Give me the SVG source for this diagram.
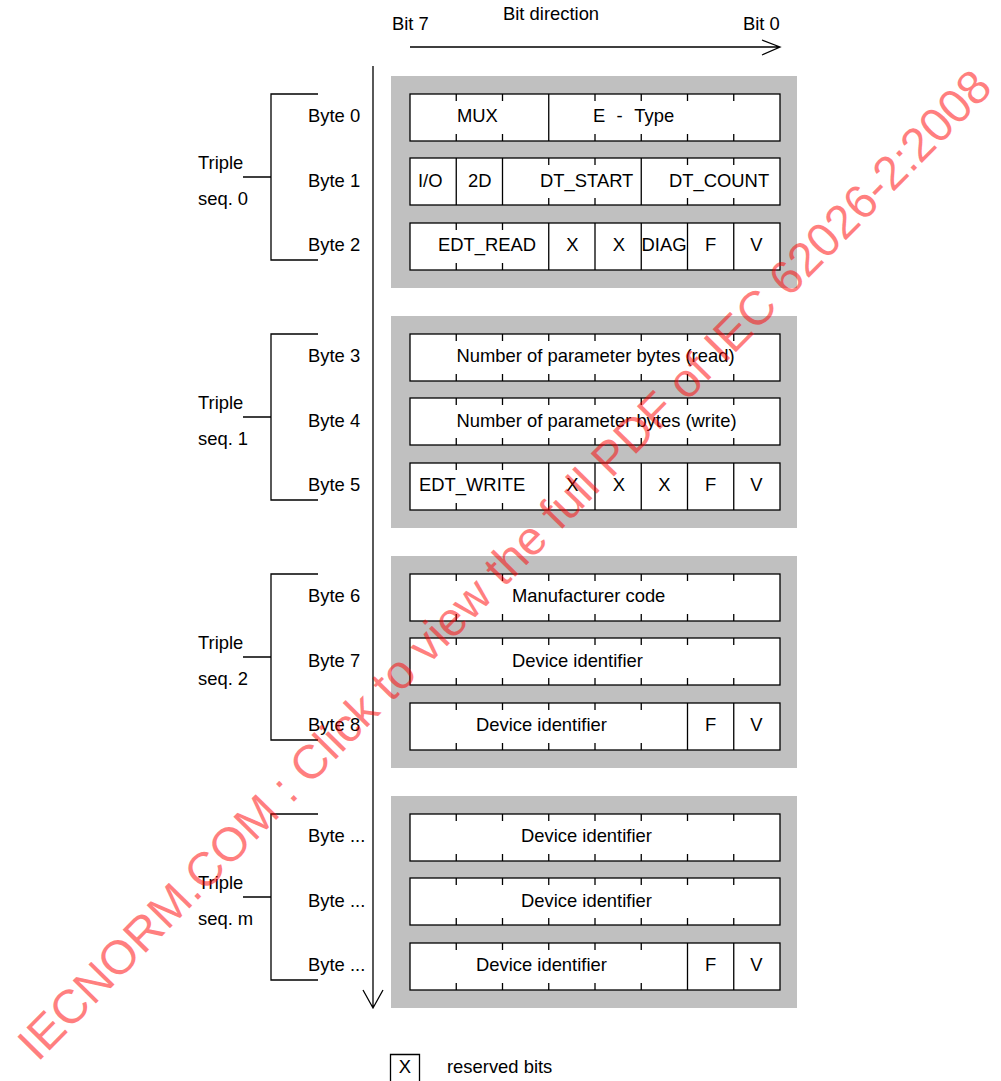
<svg xmlns="http://www.w3.org/2000/svg" width="1001" height="1081" viewBox="0 0 1001 1081">
<style>
text{font-family:"Liberation Sans",Arial,sans-serif;font-size:18.4px;fill:#000}
.m{text-anchor:middle}
.panel{fill:#c0c0c0}
.row{fill:#fff;stroke:#000;stroke-width:1.3}
.ln{stroke:#000;stroke-width:1.3;fill:none}
.wm{font-size:47.5px;fill:#ff0000;fill-opacity:0.5;text-anchor:middle}
</style>
<defs>
<g id="t7">
<path class="ln" d="M456.25,0v7M502.5,0v7M548.75,0v7M595,0v7M641.25,0v7M687.5,0v7M733.75,0v7M456.25,47v-7M502.5,47v-7M548.75,47v-7M595,47v-7M641.25,47v-7M687.5,47v-7M733.75,47v-7"/>
</g>
<g id="t5">
<path class="ln" d="M456.25,0v7M502.5,0v7M548.75,0v7M595,0v7M641.25,0v7M456.25,47v-7M502.5,47v-7M548.75,47v-7M595,47v-7M641.25,47v-7"/>
</g>
<g id="t2">
<path class="ln" d="M456.25,0v7M502.5,0v7M456.25,47v-7M502.5,47v-7"/>
</g>
</defs>
<rect width="1001" height="1081" fill="#fff"/>

<g id="header">
<text x="392" y="30">Bit 7</text>
<text x="503" y="20">Bit direction</text>
<text x="743" y="30">Bit 0</text>
</g>

<g id="connectors">
<path class="ln" d="M410,47H780M762,40L780,47L762,55"/>
<path class="ln" d="M373,66V1008M363,990L373,1008L383,990"/>
<path class="ln" d="M318,94H271V260H318M243,177H271"/>
<path class="ln" d="M318,334H271V500H318M243,417H271"/>
<path class="ln" d="M318,574H271V740H318M243,657H271"/>
<path class="ln" d="M318,814H271V980H318M243,897H271"/>
</g>

<g id="triple0">
<rect class="panel" x="391" y="76" width="406" height="212"/>
<text x="198" y="169">Triple</text><text x="198" y="205">seq. 0</text>
<g id="byte0">
<text x="308" y="122">Byte 0</text>
<rect class="row" x="410" y="94" width="370" height="47"/>
<path class="ln" d="M548.75,94v47M456.25,94v7M502.5,94v7M595,94v7M641.25,94v7M687.5,94v7M733.75,94v7M456.25,141v-7M502.5,141v-7M595,141v-7M641.25,141v-7M687.5,141v-7M733.75,141v-7"/>
<text x="457" y="122">MUX</text>
<text x="593" y="122">E <tspan dx="6">-</tspan> <tspan dx="7">Type</tspan></text>
</g>
<g id="byte1">
<text x="308" y="187">Byte 1</text>
<rect class="row" x="410" y="158" width="370" height="47"/>
<path class="ln" d="M456.25,158v47M502.5,158v47M641.25,158v47M548.75,158v7M595,158v7M687.5,158v7M733.75,158v7M548.75,205v-7M595,205v-7M687.5,205v-7M733.75,205v-7"/>
<text x="418" y="187">I/O</text>
<text x="468" y="187">2D</text>
<text x="540" y="187">DT_START</text>
<text x="669" y="187">DT_COUNT</text>
</g>
<g id="byte2">
<text x="308" y="251">Byte 2</text>
<rect class="row" x="410" y="223" width="370" height="47"/>
<path class="ln" d="M548.75,223v47M595,223v47M641.25,223v47M687.5,223v47M733.75,223v47"/>
<use href="#t2" y="223"/>
<text x="438" y="251">EDT_READ</text>
<text class="m" x="572.5" y="251">X</text>
<text class="m" x="619" y="251">X</text>
<text x="641.5" y="251">DIAG</text>
<text class="m" x="710.5" y="251">F</text>
<text class="m" x="756.5" y="251">V</text>
</g>
</g>

<g id="triple1">
<rect class="panel" x="391" y="316" width="406" height="212"/>
<text x="198" y="409">Triple</text><text x="198" y="445">seq. 1</text>
<g id="byte3">
<text x="308" y="362">Byte 3</text>
<rect class="row" x="410" y="334" width="370" height="47"/>
<use href="#t7" y="334"/>
<text x="456.5" y="362">Number of parameter bytes (read)</text>
</g>
<g id="byte4">
<text x="308" y="427">Byte 4</text>
<rect class="row" x="410" y="398" width="370" height="47"/>
<use href="#t7" y="398"/>
<text x="456.5" y="427">Number of parameter bytes (write)</text>
</g>
<g id="byte5">
<text x="308" y="491">Byte 5</text>
<rect class="row" x="410" y="463" width="370" height="47"/>
<path class="ln" d="M548.75,463v47M595,463v47M641.25,463v47M687.5,463v47M733.75,463v47"/>
<use href="#t2" y="463"/>
<text x="419" y="491">EDT_WRITE</text>
<text class="m" x="572.5" y="491">X</text>
<text class="m" x="619" y="491">X</text>
<text class="m" x="664.5" y="491">X</text>
<text class="m" x="710.5" y="491">F</text>
<text class="m" x="756.5" y="491">V</text>
</g>
</g>

<g id="triple2">
<rect class="panel" x="391" y="556" width="406" height="212"/>
<text x="198" y="649">Triple</text><text x="198" y="685">seq. 2</text>
<g id="byte6">
<text x="308" y="602">Byte 6</text>
<rect class="row" x="410" y="574" width="370" height="47"/>
<use href="#t7" y="574"/>
<text x="512" y="602">Manufacturer code</text>
</g>
<g id="byte7">
<text x="308" y="667">Byte 7</text>
<rect class="row" x="410" y="638" width="370" height="47"/>
<use href="#t7" y="638"/>
<text x="512" y="667">Device identifier</text>
</g>
<g id="byte8">
<text x="308" y="731">Byte 8</text>
<rect class="row" x="410" y="703" width="370" height="47"/>
<path class="ln" d="M687.5,703v47M733.75,703v47"/>
<use href="#t5" y="703"/>
<text x="476" y="731">Device identifier</text>
<text class="m" x="710.5" y="731">F</text>
<text class="m" x="756.5" y="731">V</text>
</g>
</g>

<g id="triplem">
<rect class="panel" x="391" y="796" width="406" height="212"/>
<text x="198" y="889">Triple</text><text x="198" y="925">seq. m</text>
<g id="byte-m0">
<text x="308" y="842">Byte ...</text>
<rect class="row" x="410" y="814" width="370" height="47"/>
<use href="#t7" y="814"/>
<text x="521" y="842">Device identifier</text>
</g>
<g id="byte-m1">
<text x="308" y="907">Byte ...</text>
<rect class="row" x="410" y="878" width="370" height="47"/>
<use href="#t7" y="878"/>
<text x="521" y="907">Device identifier</text>
</g>
<g id="byte-m2">
<text x="308" y="971">Byte ...</text>
<rect class="row" x="410" y="943" width="370" height="47"/>
<path class="ln" d="M687.5,943v47M733.75,943v47"/>
<use href="#t5" y="943"/>
<text x="476" y="971">Device identifier</text>
<text class="m" x="710.5" y="971">F</text>
<text class="m" x="756.5" y="971">V</text>
</g>
</g>

<g id="legend">
<path class="ln" d="M390.5,1081V1054.5H419.5V1081"/>
<text class="m" x="405" y="1073">X</text>
<text x="447" y="1073">reserved bits</text>
</g>

<g id="watermark">
<text class="wm" transform="translate(516,576) rotate(-45.5)">IECNORM.COM : Click to view the full PDF of IEC 62026-2:2008</text>
</g>
</svg>
